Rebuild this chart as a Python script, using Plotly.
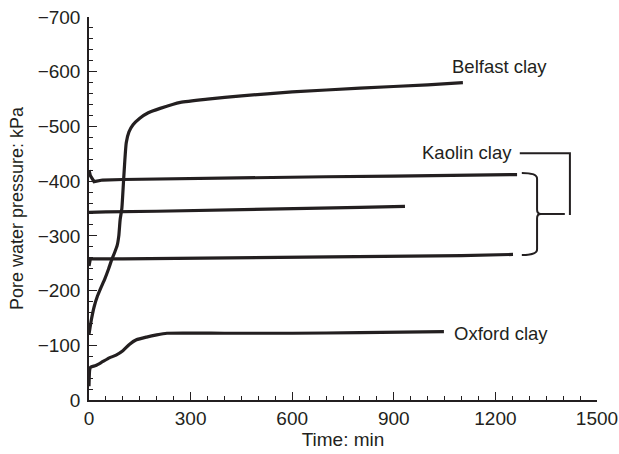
import plotly.graph_objects as go

# ---- data ----
belfast_t = [0, 3, 8, 15, 25, 35, 47, 58, 68, 76, 83, 88, 92, 97, 102, 106, 110, 118, 130, 150, 175, 210, 270, 350, 450, 600, 800, 1000, 1104]
belfast_p = [-120, -132, -150, -170, -190, -205, -222, -240, -258, -270, -282, -300, -330, -350, -400, -440, -470, -490, -503, -515, -525, -533, -544, -550, -556, -563, -570, -576, -580]

oxford_t = [0, 2, 5, 20, 40, 60, 80, 100, 120, 140, 170, 200, 230, 400, 600, 800, 1048]
oxford_p = [-25, -55, -60, -63, -70, -77, -82, -90, -102, -110, -115, -119, -122, -122, -122, -123, -125]

kaolin_top_t = [0, 4, 15, 40, 100, 300, 500, 700, 900, 1100, 1264]
kaolin_top_p = [-420, -410, -399, -402, -403, -405, -406, -408, -409, -411, -412]

kaolin_mid_t = [0, 50, 200, 400, 600, 800, 933]
kaolin_mid_p = [-343, -344, -345, -347, -349, -352, -354]

kaolin_bot_t = [0, 4, 100, 300, 500, 700, 900, 1100, 1252]
kaolin_bot_p = [-245, -258, -258, -259, -260, -261, -262, -264, -266]

x_ticks = [0, 300, 600, 900, 1200, 1500]
y_ticks = [0, -100, -200, -300, -400, -500, -600, -700]

INK = "#231f20"
FONT = "Liberation Sans, Arial, sans-serif"

fig = go.Figure()
series = [
    ("Belfast clay", belfast_t, belfast_p, "spline"),
    ("Oxford clay", oxford_t, oxford_p, "spline"),
    ("Kaolin clay 1", kaolin_top_t, kaolin_top_p, "linear"),
    ("Kaolin clay 2", kaolin_mid_t, kaolin_mid_p, "linear"),
    ("Kaolin clay 3", kaolin_bot_t, kaolin_bot_p, "linear"),
]
for name, t, p, shp in series:
    fig.add_trace(go.Scatter(
        x=t, y=p, mode="lines", name=name,
        line=dict(color=INK, width=3.2, shape=shp, smoothing=0.5 if shp == "spline" else None),
        showlegend=False, hoverinfo="x+y",
    ))

# labels
fig.add_annotation(x=1066, y=-609, text="Belfast clay", showarrow=False, xanchor="left",
                   font=dict(family=FONT, size=18.5, color=INK))
fig.add_annotation(x=977, y=-453, text="Kaolin clay", showarrow=False, xanchor="left",
                   font=dict(family=FONT, size=18.5, color=INK))
fig.add_annotation(x=1072, y=-122, text="Oxford clay", showarrow=False, xanchor="left",
                   font=dict(family=FONT, size=18.5, color=INK))

# brace for kaolin lines
fig.add_shape(type="path", xref="x", yref="y",
              path="M1278,-415 Q1323,-415 1323,-405 L1323,-348 Q1323,-340 1334,-340 "
                   "Q1323,-340 1323,-332 L1323,-275 Q1323,-265 1278,-265",
              line=dict(color=INK, width=2))
fig.add_shape(type="line", xref="x", yref="y", x0=1330, y0=-340, x1=1405, y1=-340,
              line=dict(color=INK, width=2))
fig.add_shape(type="path", xref="x", yref="y",
              path="M1272,-451 L1420,-451 L1420,-338",
              line=dict(color=INK, width=2))

axis_common = dict(
    showline=True, linecolor=INK, linewidth=1.5, mirror=False,
    ticks="inside", ticklen=8, tickwidth=1.3, tickcolor=INK,
    showgrid=False, zeroline=False, automargin=False,
    tickfont=dict(family=FONT, size=19, color=INK),
)

fig.update_xaxes(range=[0, 1500], tickmode="array", tickvals=x_ticks,
                 minor=dict(ticks="inside", ticklen=4, tickwidth=1.2, tickcolor=INK, dtick=50, tick0=0, showgrid=False),
                 title=dict(text="Time: min", font=dict(family=FONT, size=19, color=INK), standoff=2),
                 **axis_common)
fig.update_yaxes(range=[0, -700], tickmode="array", tickvals=y_ticks,
                 ticklabelstandoff=3,
                 minor=dict(ticks="inside", ticklen=4, tickwidth=1.2, tickcolor=INK, dtick=20, tick0=0, showgrid=False),
                 title=dict(text="Pore water pressure: kPa", font=dict(family=FONT, size=18, color=INK), standoff=9),
                 **axis_common)

fig.update_layout(
    width=619, height=454,
    margin=dict(l=89, r=22, t=17, b=54),
    paper_bgcolor="white", plot_bgcolor="white",
    showlegend=False,
)

fig.write_html("out.html", config={"displayModeBar": False},
               post_script="document.body.style.margin='0';document.body.style.overflow='hidden';")
